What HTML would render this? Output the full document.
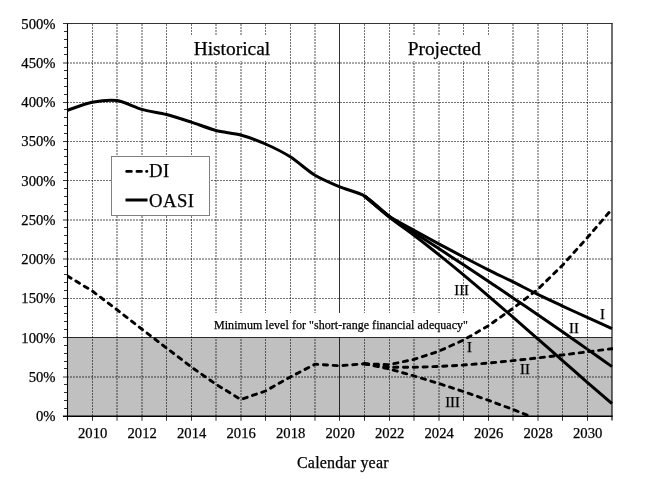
<!DOCTYPE html>
<html><head><meta charset="utf-8"><title>Trust fund ratios</title>
<style>
html,body{margin:0;padding:0;background:#fff;}
body{width:648px;height:504px;overflow:hidden;}
svg{display:block;font-family:"Liberation Serif","Times New Roman",serif;fill:#000;}
text{stroke:#000;stroke-width:.25px;}
.g{stroke:#000;stroke-width:1;stroke-dasharray:2 1;opacity:.55;}
.gl{stroke:#000;stroke-width:1;stroke-dasharray:2 1;opacity:.68;}
.ax1{stroke:#000;stroke-width:1;opacity:.8;}
.bd{stroke:#333;stroke-width:1.2;}
.bx{stroke:#000;stroke-width:1.1;}
.bb{stroke:#000;stroke-width:1.5;}
.br{stroke:#000;stroke-width:1.5;opacity:.75;}
.t{stroke:#000;stroke-width:1;opacity:.8;}
.tl{font-size:14.67px;}
.at{font-size:16px;}
.hd{font-size:18.67px;letter-spacing:0.5px;}
.hd2{font-size:19.4px;}
.ml{font-size:12px;}
.rl{font-size:14.67px;}
.dl{fill:none;stroke:#000;stroke-width:2.9;stroke-linecap:round;}
.so{fill:none;stroke:#000;stroke-width:3;stroke-linejoin:round;}
.da{fill:none;stroke:#000;stroke-width:2.9;stroke-dasharray:4.2 5.6;stroke-linecap:round;stroke-linejoin:round;}
</style></head>
<body>
<svg width="648" height="504" viewBox="0 0 648 504">
<rect x="0" y="0" width="648" height="504" fill="#fff"/>
<rect x="67.5" y="337.50" width="544.5" height="78.50" fill="#c0c0c0"/>
<line x1="92.50" x2="92.50" y1="24.0" y2="416.0" class="g"/>
<line x1="117.00" x2="117.00" y1="24.0" y2="416.0" class="gl"/>
<line x1="142.00" x2="142.00" y1="24.0" y2="416.0" class="gl"/>
<line x1="166.50" x2="166.50" y1="24.0" y2="416.0" class="g"/>
<line x1="191.50" x2="191.50" y1="24.0" y2="416.0" class="g"/>
<line x1="216.00" x2="216.00" y1="24.0" y2="416.0" class="gl"/>
<line x1="241.00" x2="241.00" y1="24.0" y2="416.0" class="gl"/>
<line x1="265.50" x2="265.50" y1="24.0" y2="416.0" class="g"/>
<line x1="290.50" x2="290.50" y1="24.0" y2="416.0" class="g"/>
<line x1="315.00" x2="315.00" y1="24.0" y2="416.0" class="gl"/>
<line x1="364.50" x2="364.50" y1="24.0" y2="416.0" class="g"/>
<line x1="389.50" x2="389.50" y1="24.0" y2="416.0" class="g"/>
<line x1="414.00" x2="414.00" y1="24.0" y2="416.0" class="gl"/>
<line x1="439.00" x2="439.00" y1="24.0" y2="416.0" class="gl"/>
<line x1="463.50" x2="463.50" y1="24.0" y2="416.0" class="g"/>
<line x1="488.50" x2="488.50" y1="24.0" y2="416.0" class="g"/>
<line x1="513.00" x2="513.00" y1="24.0" y2="416.0" class="gl"/>
<line x1="538.00" x2="538.00" y1="24.0" y2="416.0" class="gl"/>
<line x1="562.50" x2="562.50" y1="24.0" y2="416.0" class="g"/>
<line x1="587.50" x2="587.50" y1="24.0" y2="416.0" class="g"/>
<line x1="67.0" x2="612.0" y1="377.00" y2="377.00" class="gl"/>
<line x1="67.0" x2="612.0" y1="298.50" y2="298.50" class="g"/>
<line x1="67.0" x2="612.0" y1="259.00" y2="259.00" class="gl"/>
<line x1="67.0" x2="612.0" y1="220.00" y2="220.00" class="gl"/>
<line x1="67.0" x2="612.0" y1="180.50" y2="180.50" class="g"/>
<line x1="67.0" x2="612.0" y1="141.50" y2="141.50" class="g"/>
<line x1="67.0" x2="612.0" y1="102.50" y2="102.50" class="g"/>
<line x1="67.0" x2="612.0" y1="63.00" y2="63.00" class="gl"/>
<line x1="67.5" x2="612.0" y1="337.50" y2="337.50" class="ax1"/>
<line x1="339.50" x2="339.50" y1="23.5" y2="420.8" class="ax1"/>
<rect x="186" y="35" width="93" height="26" fill="#fff"/>
<rect x="398" y="35" width="93" height="26" fill="#fff"/>
<rect x="212" y="313" width="258" height="24" fill="#fff"/>
<line x1="63.0" x2="612.7" y1="23.5" y2="23.5" class="bd"/>
<line x1="63.0" x2="612.7" y1="416.25" y2="416.25" class="bb"/>
<line x1="67.5" x2="67.5" y1="23.5" y2="420.5" class="bx"/>
<line x1="612.0" x2="612.0" y1="23.5" y2="420.5" class="br"/>
<line x1="64.0" x2="67.5" y1="408.50" y2="408.50" class="t"/>
<line x1="64.0" x2="67.5" y1="400.50" y2="400.50" class="t"/>
<line x1="64.0" x2="67.5" y1="392.50" y2="392.50" class="t"/>
<line x1="64.0" x2="67.5" y1="384.50" y2="384.50" class="t"/>
<line x1="63.0" x2="67.5" y1="377.00" y2="377.00" class="t"/>
<line x1="64.0" x2="67.5" y1="368.50" y2="368.50" class="t"/>
<line x1="64.0" x2="67.5" y1="361.50" y2="361.50" class="t"/>
<line x1="64.0" x2="67.5" y1="353.50" y2="353.50" class="t"/>
<line x1="64.0" x2="67.5" y1="345.50" y2="345.50" class="t"/>
<line x1="63.0" x2="67.5" y1="337.50" y2="337.50" class="t"/>
<line x1="64.0" x2="67.5" y1="329.50" y2="329.50" class="t"/>
<line x1="64.0" x2="67.5" y1="321.50" y2="321.50" class="t"/>
<line x1="64.0" x2="67.5" y1="313.50" y2="313.50" class="t"/>
<line x1="64.0" x2="67.5" y1="306.50" y2="306.50" class="t"/>
<line x1="63.0" x2="67.5" y1="298.50" y2="298.50" class="t"/>
<line x1="64.0" x2="67.5" y1="290.50" y2="290.50" class="t"/>
<line x1="64.0" x2="67.5" y1="282.50" y2="282.50" class="t"/>
<line x1="64.0" x2="67.5" y1="274.50" y2="274.50" class="t"/>
<line x1="64.0" x2="67.5" y1="266.50" y2="266.50" class="t"/>
<line x1="63.0" x2="67.5" y1="259.00" y2="259.00" class="t"/>
<line x1="64.0" x2="67.5" y1="251.50" y2="251.50" class="t"/>
<line x1="64.0" x2="67.5" y1="243.50" y2="243.50" class="t"/>
<line x1="64.0" x2="67.5" y1="235.50" y2="235.50" class="t"/>
<line x1="64.0" x2="67.5" y1="227.50" y2="227.50" class="t"/>
<line x1="63.0" x2="67.5" y1="220.00" y2="220.00" class="t"/>
<line x1="64.0" x2="67.5" y1="211.50" y2="211.50" class="t"/>
<line x1="64.0" x2="67.5" y1="204.50" y2="204.50" class="t"/>
<line x1="64.0" x2="67.5" y1="196.50" y2="196.50" class="t"/>
<line x1="64.0" x2="67.5" y1="188.50" y2="188.50" class="t"/>
<line x1="63.0" x2="67.5" y1="180.50" y2="180.50" class="t"/>
<line x1="64.0" x2="67.5" y1="172.50" y2="172.50" class="t"/>
<line x1="64.0" x2="67.5" y1="164.50" y2="164.50" class="t"/>
<line x1="64.0" x2="67.5" y1="156.50" y2="156.50" class="t"/>
<line x1="64.0" x2="67.5" y1="149.50" y2="149.50" class="t"/>
<line x1="63.0" x2="67.5" y1="141.50" y2="141.50" class="t"/>
<line x1="64.0" x2="67.5" y1="133.50" y2="133.50" class="t"/>
<line x1="64.0" x2="67.5" y1="125.50" y2="125.50" class="t"/>
<line x1="64.0" x2="67.5" y1="117.50" y2="117.50" class="t"/>
<line x1="64.0" x2="67.5" y1="109.50" y2="109.50" class="t"/>
<line x1="63.0" x2="67.5" y1="102.50" y2="102.50" class="t"/>
<line x1="64.0" x2="67.5" y1="94.50" y2="94.50" class="t"/>
<line x1="64.0" x2="67.5" y1="86.50" y2="86.50" class="t"/>
<line x1="64.0" x2="67.5" y1="78.50" y2="78.50" class="t"/>
<line x1="64.0" x2="67.5" y1="70.50" y2="70.50" class="t"/>
<line x1="63.0" x2="67.5" y1="63.00" y2="63.00" class="t"/>
<line x1="64.0" x2="67.5" y1="54.50" y2="54.50" class="t"/>
<line x1="64.0" x2="67.5" y1="47.50" y2="47.50" class="t"/>
<line x1="64.0" x2="67.5" y1="39.50" y2="39.50" class="t"/>
<line x1="64.0" x2="67.5" y1="31.50" y2="31.50" class="t"/>
<line x1="92.50" x2="92.50" y1="416.0" y2="420.8" class="t"/>
<line x1="117.00" x2="117.00" y1="416.0" y2="420.8" class="t"/>
<line x1="142.00" x2="142.00" y1="416.0" y2="420.8" class="t"/>
<line x1="166.50" x2="166.50" y1="416.0" y2="420.8" class="t"/>
<line x1="191.50" x2="191.50" y1="416.0" y2="420.8" class="t"/>
<line x1="216.00" x2="216.00" y1="416.0" y2="420.8" class="t"/>
<line x1="241.00" x2="241.00" y1="416.0" y2="420.8" class="t"/>
<line x1="265.50" x2="265.50" y1="416.0" y2="420.8" class="t"/>
<line x1="290.50" x2="290.50" y1="416.0" y2="420.8" class="t"/>
<line x1="315.00" x2="315.00" y1="416.0" y2="420.8" class="t"/>
<line x1="364.50" x2="364.50" y1="416.0" y2="420.8" class="t"/>
<line x1="389.50" x2="389.50" y1="416.0" y2="420.8" class="t"/>
<line x1="414.00" x2="414.00" y1="416.0" y2="420.8" class="t"/>
<line x1="439.00" x2="439.00" y1="416.0" y2="420.8" class="t"/>
<line x1="463.50" x2="463.50" y1="416.0" y2="420.8" class="t"/>
<line x1="488.50" x2="488.50" y1="416.0" y2="420.8" class="t"/>
<line x1="513.00" x2="513.00" y1="416.0" y2="420.8" class="t"/>
<line x1="538.00" x2="538.00" y1="416.0" y2="420.8" class="t"/>
<line x1="562.50" x2="562.50" y1="416.0" y2="420.8" class="t"/>
<line x1="587.50" x2="587.50" y1="416.0" y2="420.8" class="t"/>
<text x="55.5" y="421.00" text-anchor="end" class="tl">0%</text>
<text x="55.5" y="381.75" text-anchor="end" class="tl">50%</text>
<text x="55.5" y="342.50" text-anchor="end" class="tl">100%</text>
<text x="55.5" y="303.25" text-anchor="end" class="tl">150%</text>
<text x="55.5" y="264.00" text-anchor="end" class="tl">200%</text>
<text x="55.5" y="224.75" text-anchor="end" class="tl">250%</text>
<text x="55.5" y="185.50" text-anchor="end" class="tl">300%</text>
<text x="55.5" y="146.25" text-anchor="end" class="tl">350%</text>
<text x="55.5" y="107.00" text-anchor="end" class="tl">400%</text>
<text x="55.5" y="67.75" text-anchor="end" class="tl">450%</text>
<text x="55.5" y="28.50" text-anchor="end" class="tl">500%</text>
<text x="92.65" y="438" text-anchor="middle" class="tl">2010</text>
<text x="142.15" y="438" text-anchor="middle" class="tl">2012</text>
<text x="191.65" y="438" text-anchor="middle" class="tl">2014</text>
<text x="241.15" y="438" text-anchor="middle" class="tl">2016</text>
<text x="290.65" y="438" text-anchor="middle" class="tl">2018</text>
<text x="340.15" y="438" text-anchor="middle" class="tl">2020</text>
<text x="389.65" y="438" text-anchor="middle" class="tl">2022</text>
<text x="439.15" y="438" text-anchor="middle" class="tl">2024</text>
<text x="488.65" y="438" text-anchor="middle" class="tl">2026</text>
<text x="538.15" y="438" text-anchor="middle" class="tl">2028</text>
<text x="587.65" y="438" text-anchor="middle" class="tl">2030</text>
<text x="297" y="468" class="at" textLength="91.5" lengthAdjust="spacing">Calendar year</text>
<text x="231.9" y="54.5" text-anchor="middle" class="hd2">Historical</text>
<text x="444.3" y="54.5" text-anchor="middle" class="hd2">Projected</text>
<text x="214" y="329.3" class="ml" textLength="254" lengthAdjust="spacing">Minimum level for "short-range financial adequacy"</text>
<clipPath id="cp"><rect x="67.5" y="23.5" width="545.5" height="392.5"/></clipPath>
<g clip-path="url(#cp)">
<path d="M67.50,110.20C70.80,109.15 85.65,103.58 92.25,102.30C98.85,101.02 110.40,99.65 117.00,100.60C123.60,101.55 135.15,107.55 141.75,109.40C148.35,111.25 159.90,112.81 166.50,114.50C173.10,116.19 184.65,119.97 191.25,122.10C197.85,124.23 209.40,128.78 216.00,130.50C222.60,132.22 234.15,133.20 240.75,135.00C247.35,136.80 258.90,141.09 265.50,144.00C272.10,146.91 283.65,152.63 290.25,156.80C296.85,160.97 308.40,171.29 315.00,175.30C321.60,179.31 333.15,184.14 339.75,186.90C346.35,189.66 357.90,192.04 364.50,196.00C371.10,199.96 385.95,213.83 389.25,216.57" class="so"/>
<path d="M364.50,196.00C367.80,198.68 382.65,211.57 389.25,216.13C395.85,220.69 407.40,226.50 414.00,230.19C420.60,233.88 432.15,240.24 438.75,243.82C445.35,247.40 456.90,253.55 463.50,257.02C470.10,260.49 481.65,266.50 488.25,269.82C494.85,273.14 506.40,278.62 513.00,281.90C519.60,285.18 531.15,291.18 537.75,294.40C544.35,297.62 555.90,302.97 562.50,306.04C569.10,309.11 580.65,314.45 587.25,317.45C593.85,320.45 608.70,327.09 612.00,328.57" class="so"/>
<path d="M364.50,196.00C367.80,198.74 382.65,211.71 389.25,216.57C395.85,221.43 407.40,228.18 414.00,232.44C420.60,236.70 432.15,244.20 438.75,248.51C445.35,252.82 456.90,260.42 463.50,264.78C470.10,269.14 481.65,276.82 488.25,281.24C494.85,285.66 506.40,293.43 513.00,297.90C519.60,302.37 531.15,310.24 537.75,314.77C544.35,319.30 555.90,327.26 562.50,331.84C569.10,336.42 580.65,344.49 587.25,349.13C593.85,353.77 608.70,364.30 612.00,366.63" class="so"/>
<path d="M364.50,196.00C367.80,198.79 382.65,211.72 389.25,216.96C395.85,222.20 407.40,230.28 414.00,235.31C420.60,240.34 432.15,249.42 438.75,254.70C445.35,259.98 456.90,269.45 463.50,274.94C470.10,280.43 481.65,290.20 488.25,295.84C494.85,301.48 506.40,311.47 513.00,317.21C519.60,322.95 531.15,333.08 537.75,338.87C544.35,344.66 555.90,354.83 562.50,360.62C569.10,366.41 580.65,376.54 587.25,382.28C593.85,388.02 608.70,400.81 612.00,403.66" class="so"/>
<path d="M67.50,276.00L92.25,291.00L117.00,309.75L141.75,329.00L166.50,348.00L191.25,366.90L216.00,384.30L240.75,399.50L265.50,391.00L290.25,377.00L315.00,364.25L339.75,365.75L364.50,363.80" class="da"/>
<path d="M364.50,363.80L389.25,364.62L414.00,359.41L438.75,351.23L463.50,340.04L488.25,325.77L513.00,308.38L537.75,289.40L562.50,265.20L587.25,237.80L612.00,209.00" class="da"/>
<path d="M364.50,363.80L389.25,367.29L414.00,367.25L438.75,366.47L463.50,365.05L488.25,363.08L513.00,360.67L537.75,357.92L562.50,354.94L587.25,351.83L612.00,348.69" class="da"/>
<path d="M364.50,363.80L389.25,368.94L414.00,375.95L438.75,383.48L463.50,391.56L488.25,400.22L513.00,409.50L537.75,419.43" class="da"/>
</g>
<text x="602.5" y="318.8" text-anchor="middle" class="rl">I</text>
<text x="574" y="333.4" text-anchor="middle" class="rl">II</text>
<text x="461.7" y="294.8" text-anchor="middle" class="rl">III</text>
<text x="469.5" y="352" text-anchor="middle" class="rl">I</text>
<text x="525" y="373.5" text-anchor="middle" class="rl">II</text>
<text x="452.5" y="406.9" text-anchor="middle" class="rl">III</text>
<rect x="111.5" y="156.5" width="98" height="59" fill="#fff" stroke="#808080" stroke-width="1"/>
<path d="M126.7,171.4H131.3M137,171.4H141.4M146.6,171.4H146.9" class="dl"/>
<line x1="125.5" x2="147.5" y1="200" y2="200" class="so"/>
<text x="149" y="177" class="hd">DI</text>
<text x="149" y="207" class="hd">OASI</text>
</svg>
</body></html>
